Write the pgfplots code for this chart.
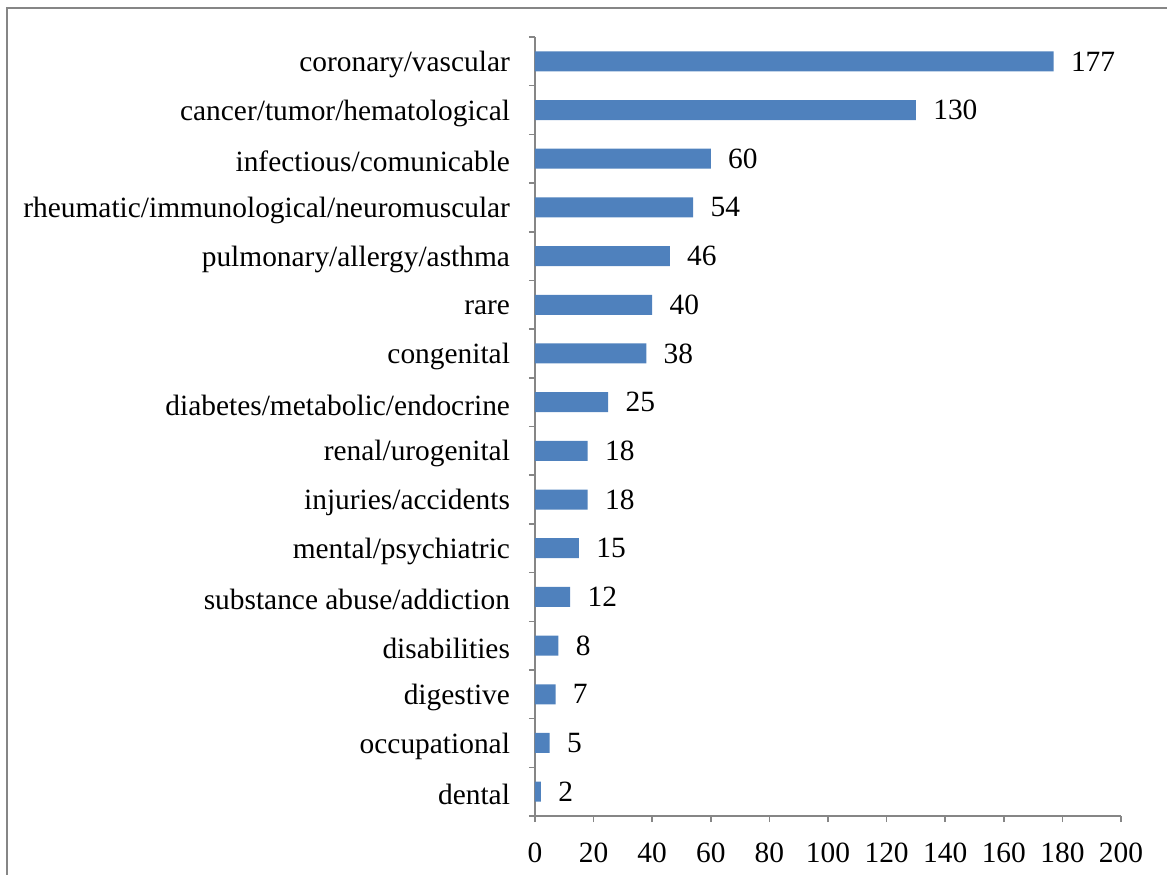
\documentclass[border=0pt]{standalone}
\usepackage{fontspec}
\setmainfont{Liberation Serif}
\usepackage{pgfplots}
\pgfplotsset{compat=1.18}
\definecolor{barblue}{HTML}{4F81BD}
\definecolor{axgray}{HTML}{868686}
\begin{document}
\begin{tikzpicture}[x=0.5pt,y=0.5pt]
\useasboundingbox (0,0) rectangle (1167,874);
\draw[axgray, line width=1pt] (7,-10) -- (7,866) -- (1180,866);
\begin{axis}[
  at={(267.5pt,29pt)}, anchor=south west,
  scale only axis, width=293pt, height=389.5pt,
  xbar, xmin=0, xmax=200, ymin=-0.5, ymax=15.5, y dir=reverse,
  enlargelimits=false, clip=false,
  axis x line*=bottom, axis y line*=left,
  axis line style={axgray, line width=0.75pt},
  tick align=outside,
  major tick length=3pt, minor tick length=3pt,
  xtick={0,20,...,200},
  x tick style={axgray, line width=0.75pt},
  ytick={0,...,15},
  y tick style={axgray, line width=0.75pt},
  major y tick style={draw=none},
  minor ytick={-0.5,0.5,...,15.5},
  yticklabels={coronary/vascular, cancer/tumor/hematological, infectious/comunicable, rheumatic/immunological/neuromuscular, pulmonary/allergy/asthma, rare, congenital, diabetes/metabolic/endocrine, renal/urogenital, injuries/accidents, mental/psychiatric, substance abuse/addiction, disabilities, digestive, occupational, dental},
  ticklabel style={font=\fontsize{14.7}{15}\selectfont},
  yticklabel style={xshift=-6pt, yshift=-1.5pt},
  xticklabel style={yshift=-7pt},
  /pgf/number format/assume math mode=true,
  bar width=10pt,
  nodes near coords,
  nodes near coords style={anchor=west, inner sep=0pt, xshift=8.5pt, font=\fontsize{14.7}{15}\selectfont, black},
]
\addplot[fill=barblue, draw=none] coordinates {
 (177,0) (130,1) (60,2) (54,3) (46,4) (40,5) (38,6) (25,7)
 (18,8) (18,9) (15,10) (12,11) (8,12) (7,13) (5,14) (2,15)};
\end{axis}
\end{tikzpicture}
\end{document}
